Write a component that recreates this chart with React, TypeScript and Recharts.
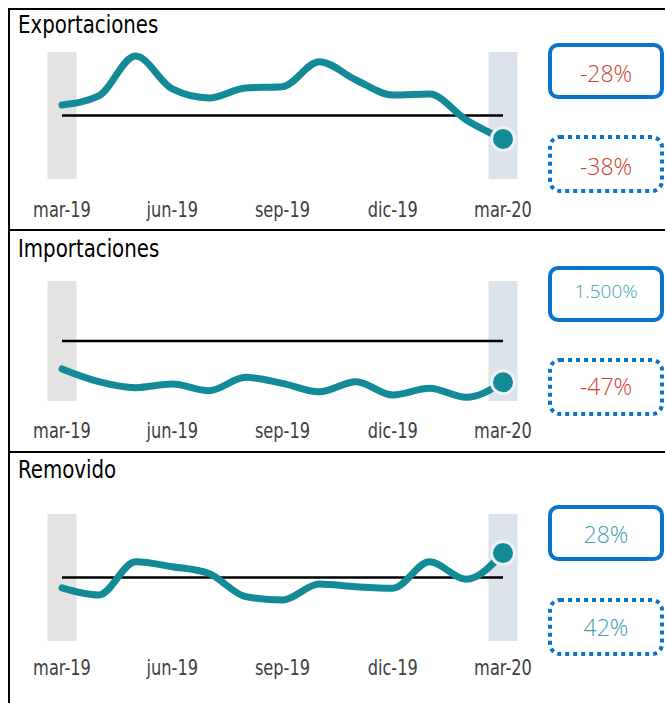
import { LineChart, Line, XAxis, YAxis, ReferenceLine } from 'recharts';

const TEAL = '#128a98';
const RED = '#d0402f';
const TEAL_TEXT = '#3a9fab';
const BLUE = '#0a74cc';

const MONTHS = [
  'mar-19', 'abr-19', 'may-19', 'jun-19', 'jul-19', 'ago-19', 'sep-19',
  'oct-19', 'nov-19', 'dic-19', 'ene-20', 'feb-20', 'mar-20',
];
const TICKS = ['mar-19', 'jun-19', 'sep-19', 'dic-19', 'mar-20'];

// index, 0 = reference line
const EXPORTACIONES = [8.3, 15.4, 46.9, 20.9, 13.8, 21.7, 22.7, 42.4, 28, 16.1, 16.9, -3.5, -18.5];
const IMPORTACIONES = [-23.3, -33.9, -38.9, -35.8, -41.4, -30.3, -35.3, -42.3, -33.9, -45, -39.4, -46.9, -34.4];
const REMOVIDO = [-8.2, -13.8, 12.4, 8.5, 3.1, -15.1, -17.7, -5.1, -7.3, -8.5, 12.4, -1.4, 19.3];

const TITLES = ['Exportaciones', 'Importaciones', 'Removido'];
const BOX_TOP = ['-28%', '1.500%', '28%'];
const BOX_BOTTOM = ['-38%', '-47%', '42%'];

const NARROW = "'Liberation Sans Narrow', 'DejaVu Sans Condensed', sans-serif";

function toRows(values: number[]) {
  return MONTHS.map((m, i) => ({ m, v: values[i] }));
}

const EndDot = (props: any) => {
  const { cx, cy, index } = props;
  if (index !== MONTHS.length - 1) return <g key={index} />;
  return (
    <g key={index}>
      <circle cx={cx} cy={cy} r={13} fill="#eef2f6" />
      <circle cx={cx} cy={cy} r={10} fill={TEAL} />
    </g>
  );
};

interface PanelProps {
  values: number[];
  top: number;
  plotTop: number;
  plotHeight: number;
  labelOffset: number;
}

function Panel({ values, top, plotTop, plotHeight, labelOffset }: PanelProps) {
  const axisH = 50;
  const tick = ({ x, y, payload }: any) => (
    <text
      transform={`translate(${x},${y + labelOffset}) scale(0.82,1)`}
      textAnchor="middle"
      fill="#404040"
      fontSize={22}
      fontFamily={NARROW}
    >
      {payload.value}
    </text>
  );
  return (
    <div style={{ position: 'absolute', left: 10, top }}>
      <LineChart
        width={530}
        height={plotTop + plotHeight + axisH}
        data={toRows(values)}
        margin={{ top: plotTop, right: 37, left: 52, bottom: 0 }}
      >
        <XAxis
          dataKey="m"
          ticks={TICKS}
          interval={0}
          axisLine={false}
          tickLine={false}
          tickSize={0}
          tickMargin={0}
          height={axisH}
          tick={tick}
        />
        <YAxis hide type="number" domain={[-50, 50]} />
        <ReferenceLine x="mar-19" stroke="#e3e3e3" strokeWidth={29} />
        <ReferenceLine x="mar-20" stroke="#dde3ea" strokeWidth={29} />
        <ReferenceLine y={0} stroke="#000" strokeWidth={2.5} />
        <Line
          type="monotone"
          dataKey="v"
          stroke={TEAL}
          strokeWidth={7}
          strokeLinecap="round"
          dot={EndDot}
          activeDot={false}
          isAnimationActive={false}
        />
      </LineChart>
    </div>
  );
}

function Boxes() {
  const tops = [10, 231, 453];
  const solidY = [45, 268, 507];
  const dotY = [137, 360, 600];
  const topBase = [82, 298, 543];
  const botBase = [175, 395, 636];
  const topSize = [23, 19, 23];
  const isNeg = (s: string) => s.startsWith('-');
  return (
    <svg width={665} height={703} style={{ position: 'absolute', left: 0, top: 0 }}>
      {TITLES.map((t, i) => (
        <text
          key={t}
          transform={`translate(18,${tops[i] + [23, 25.5, 25][i]}) scale(0.88,1)`}
          fontSize={25}
          fontFamily={NARROW}
          fill="#000"
        >
          {t}
        </text>
      ))}
      {[0, 1, 2].map((i) => (
        <g key={i}>
          <rect x={550} y={solidY[i]} width={112} height={52} rx={8} fill="none" stroke={BLUE} strokeWidth={4} />
          <rect
            x={550}
            y={dotY[i]}
            width={112}
            height={54}
            rx={10}
            fill="none"
            stroke={BLUE}
            strokeWidth={4}
            strokeDasharray="4 4"
          />
          <text
            x={606}
            y={topBase[i]}
            textAnchor="middle"
            fontSize={topSize[i]}
            fontWeight={300}
            fontFamily="'Open Sans', sans-serif"
            fill={isNeg(BOX_TOP[i]) ? RED : TEAL_TEXT}
          >
            {BOX_TOP[i]}
          </text>
          <text
            x={606}
            y={botBase[i]}
            textAnchor="middle"
            fontSize={23}
            fontWeight={300}
            fontFamily="'Open Sans', sans-serif"
            fill={isNeg(BOX_BOTTOM[i]) ? RED : TEAL_TEXT}
          >
            {BOX_BOTTOM[i]}
          </text>
        </g>
      ))}
    </svg>
  );
}

export default function App() {
  return (
    <div style={{ position: 'absolute', left: 0, top: 0, width: 665, height: 703, background: '#fff', overflow: 'hidden' }}>
      <div
        style={{
          position: 'absolute',
          left: 8,
          top: 8,
          width: 657,
          height: 695,
          borderLeft: '2px solid #000',
          borderTop: '2px solid #000',
          boxSizing: 'border-box',
        }}
      />
      <div style={{ position: 'absolute', left: 8, top: 229, width: 657, height: 2, background: '#000' }} />
      <div style={{ position: 'absolute', left: 8, top: 451, width: 657, height: 2, background: '#000' }} />
      <Boxes />
      <Panel values={EXPORTACIONES} top={40} plotTop={12} plotHeight={127} labelOffset={38} />
      <Panel values={IMPORTACIONES} top={270} plotTop={11} plotHeight={120} labelOffset={37} />
      <Panel values={REMOVIDO} top={500} plotTop={14} plotHeight={127} labelOffset={34} />
    </div>
  );
}
